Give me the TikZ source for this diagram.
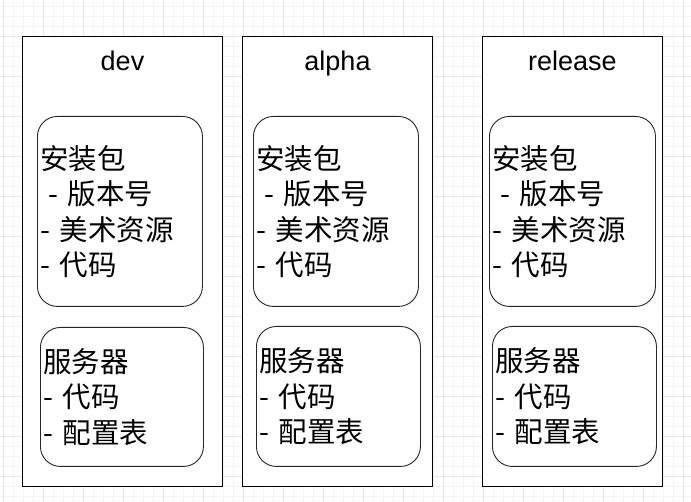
\documentclass[tikz,border=0pt]{standalone}
\usepackage{fontspec}
\setmainfont{Liberation Sans}
\newfontfamily\cjk{Noto Sans CJK SC}
\usetikzlibrary{positioning}

\definecolor{gridminor}{HTML}{F5F5F5}
\definecolor{gridmajor}{HTML}{E6E6E6}

\begin{document}
\begin{tikzpicture}[x=1pt,y=-1pt,
    env box/.style={draw,fill=white,line width=1pt,anchor=north west,inner sep=0pt},
    env title/.style={font=\fontsize{27}{30}\selectfont,inner sep=0pt},
    part box/.style={draw=black!85,fill=white,line width=0.9pt,rounded corners=20pt,
                     anchor=north west,inner sep=3pt,align=left,
                     font=\cjk\fontsize{28.5}{35.5}\selectfont}]
  \useasboundingbox (0,0) rectangle (691,502);
  % grid
  \foreach \x in {3,13,...,683} \draw[gridminor,line width=0.8pt] (\x,0) -- (\x,502);
  \foreach \y in {6,16,...,496} \draw[gridminor,line width=0.8pt] (0,\y) -- (691,\y);
  \foreach \x in {3,43,...,683} \draw[gridmajor,line width=0.8pt] (\x,0) -- (\x,502);
  \foreach \y in {36,76,...,476} \draw[gridmajor,line width=0.8pt] (0,\y) -- (691,\y);

  % environments
  \node[env box,minimum width=200pt,minimum height=450pt] (dev) at (22,36) {};
  \node[env box,minimum width=190pt,minimum height=450pt] (alpha) at (242,36) {};
  \node[env box,minimum width=180pt,minimum height=450pt] (release) at (482,36) {};
  \node[env title] (devtitle) [below=35pt of dev.north,anchor=base] {dev};
  \node[env title] (alphatitle) [below=35pt of alpha.north,anchor=base] {alpha};
  \node[env title] (releasetitle) [below=35pt of release.north,anchor=base] {release};

  % packages
  \node[part box,text width=159pt,minimum height=190pt] (devpkg) at (37,116)
    {安装包\\\hspace*{8pt}- 版本号\\- 美术资源\\- 代码};
  \node[part box,text width=159pt,minimum height=190pt] (alphapkg) at (253,116)
    {安装包\\\hspace*{8pt}- 版本号\\- 美术资源\\- 代码};
  \node[part box,text width=160pt,minimum height=190pt] (releasepkg) at (489,116)
    {安装包\\\hspace*{8pt}- 版本号\\- 美术资源\\- 代码};

  % servers
  \node[part box,text width=157pt,minimum height=139pt] (devsrv) at (40,327)
    {服务器\\- 代码\\- 配置表};
  \node[part box,text width=158pt,minimum height=140pt] (alphasrv) at (256,326)
    {服务器\\- 代码\\- 配置表};
  \node[part box,text width=158pt,minimum height=140pt] (releasesrv) at (492,326)
    {服务器\\- 代码\\- 配置表};
\end{tikzpicture}
\end{document}
